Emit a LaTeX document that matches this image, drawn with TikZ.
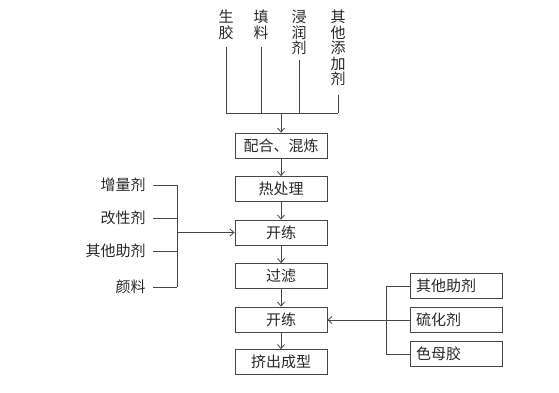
\documentclass[tikz,border=0pt]{standalone}
\usepackage{fontspec}
\setmainfont{Noto Sans CJK SC}
\usetikzlibrary{positioning, arrows.meta}
\definecolor{linegray}{RGB}{70,70,70}
\definecolor{textgray}{RGB}{40,40,40}

\begin{document}
\begin{tikzpicture}[x=1pt, y=-1pt, node distance=43.5pt, on grid,
    color=linegray, text=textgray, line width=0.8pt,
    font=\fontsize{15}{15.5}\selectfont,
    box/.style={draw, minimum width=92pt, minimum height=25pt, inner sep=0pt},
    sidebox/.style={draw, minimum height=25pt, text width=80pt, inner xsep=6pt, inner ysep=0pt, align=left},
    vlabel/.style={align=center, anchor=north, inner sep=1pt},
    hlabel/.style={anchor=east, inner sep=0pt},
    flow/.style={-{Straight Barb[length=4pt, width=7pt]}}]
    \useasboundingbox (0,0) rectangle (559,393);

    % main line
    \node[box] (mix) at (281,145.5) {配合、混炼};
    \node[box, below=of mix] (heat) {热处理};
    \node[box, below=of heat] (open1) {开练};
    \node[box, below=of open1] (filter) {过滤};
    \node[box, below=of filter] (open2) {开练};
    \node[box, below=42.5pt of open2] (extrude) {挤出成型};

    \path[flow]
        (mix) edge (heat)
        (heat) edge (open1)
        (open1) edge (filter)
        (filter) edge (open2)
        (open2) edge (extrude);

    % raw materials on top
    \node[vlabel] (rubber) at (226,9) {生\\胶};
    \node[vlabel] (filler) at (261,9) {填\\料};
    \node[vlabel] (wetting) at (299,9) {浸\\润\\剂};
    \node[vlabel] (additive) at (338,9) {其\\他\\添\\加\\剂};
    \coordinate (topjoin) at (281,113);

    \draw[shorten <=6pt] (rubber.south) -- (rubber.south |- topjoin);
    \draw[shorten <=6pt] (filler.south) -- (filler.south |- topjoin);
    \draw[shorten <=4pt] (wetting.south) -- (wetting.south |- topjoin);
    \draw[shorten <=7pt] (additive.south) -- (additive.south |- topjoin);
    \draw (rubber.south |- topjoin) -- (additive.south |- topjoin);
    \draw[flow] (topjoin) -- (mix);

    % left additions
    \node[hlabel] (extender) at (146,185) {增量剂};
    \node[hlabel] (modifier) at (146,218) {改性剂};
    \node[hlabel] (auxleft) at (146,251) {其他助剂};
    \node[hlabel] (pigment) at (146,287) {颜料};
    \coordinate (leftjoin) at (177,232.5);

    \foreach \n in {extender, modifier, auxleft, pigment}
        \draw ([xshift=7pt]\n.east) -- (\n.east -| leftjoin);
    \draw (extender.east -| leftjoin) -- (pigment.east -| leftjoin);
    \draw[flow] (leftjoin) -- (open1);

    % right additions
    \node[sidebox] (auxright) at (456,286) {其他助剂};
    \node[sidebox, below=34pt of auxright] (curing) {硫化剂};
    \node[sidebox, below=34pt of curing] (masterbatch) {色母胶};
    \coordinate (rightjoin) at (386,320);

    \draw (auxright.west) -- (auxright.west -| rightjoin)
        -- (masterbatch.west -| rightjoin) -- (masterbatch.west);
    \draw[flow] (curing.west) -- (curing.west -| open2.east);
\end{tikzpicture}
\end{document}
